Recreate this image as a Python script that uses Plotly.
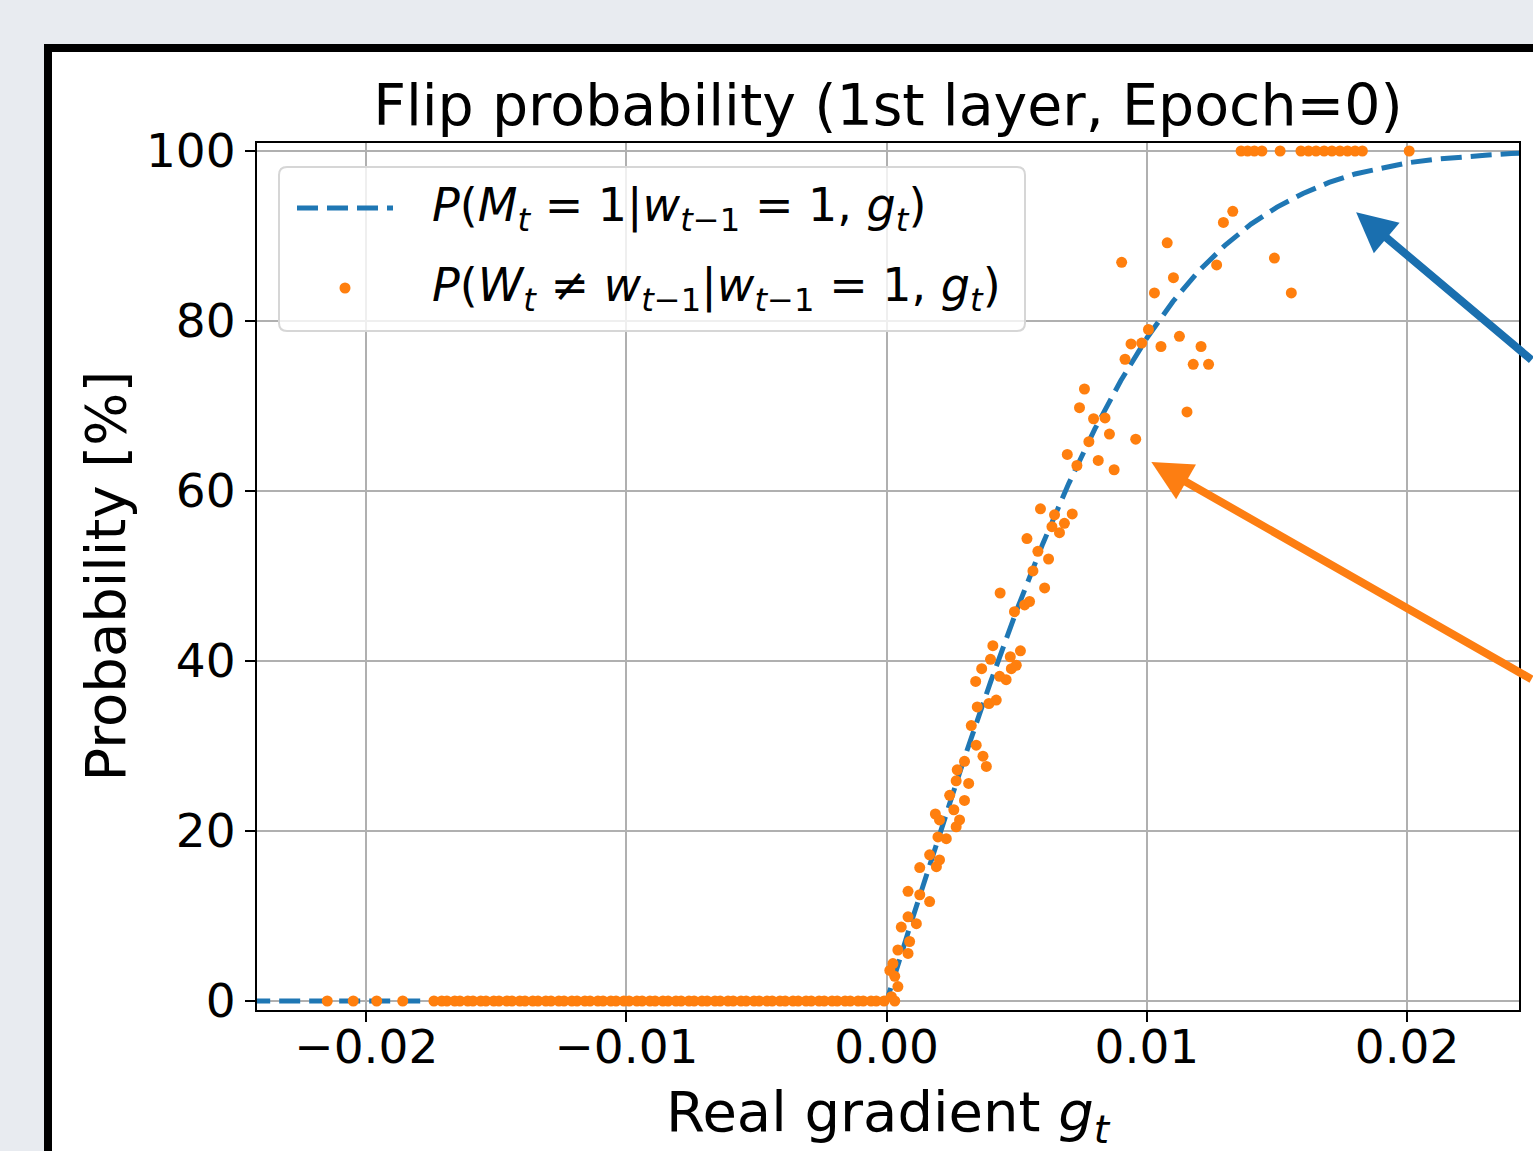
import plotly.graph_objects as go

# ---------------- data ----------------
curve_x = [-0.0245, -0.02, -0.01, 0.0,
           0.001, 0.002, 0.003, 0.004, 0.005, 0.006, 0.007, 0.008, 0.009, 0.010,
           0.011, 0.012, 0.013, 0.014, 0.015, 0.016, 0.017, 0.018, 0.019, 0.020,
           0.021, 0.022, 0.023, 0.024, 0.025]
curve_y = [0.0, 0.0, 0.0, 0.0,
           9.8, 19.4, 28.7, 37.6, 46.0, 53.8, 60.9, 67.3, 73.0, 78.0,
           82.3, 85.9, 88.9, 91.4, 93.4, 95.0, 96.3, 97.3, 98.0, 98.6,
           99.0, 99.3, 99.5, 99.7, 99.8]

flip_x_neg = [-0.0215, -0.0205, -0.0196, -0.0186, -0.0174, -0.0171, -0.0169, -0.0166, -0.0164, -0.0161,
              -0.0159, -0.0156, -0.0154, -0.0151, -0.0149, -0.0146, -0.0144, -0.0141, -0.0139, -0.0136,
              -0.0134, -0.0131, -0.0129, -0.0126, -0.0124, -0.0121, -0.0119, -0.0116, -0.0114, -0.0111,
              -0.0109, -0.0106, -0.0104, -0.0101, -0.0099, -0.0096, -0.0094, -0.0091, -0.0089, -0.0086,
              -0.0084, -0.0081, -0.0079, -0.0076, -0.0074, -0.0071, -0.0069, -0.0066, -0.0064, -0.0061,
              -0.0059, -0.0056, -0.0054, -0.0051, -0.0049, -0.0046, -0.0044, -0.0041, -0.0039, -0.0036,
              -0.0034, -0.0031, -0.0029, -0.0026, -0.0024, -0.0021, -0.0019, -0.0016, -0.0014, -0.0011,
              -0.0009, -0.0006, -0.0004, -0.0001]
flip_y_neg = [0.0, 0.0, 0.0, 0.0, 0.0, 0.0, 0.0, 0.0, 0.0, 0.0,
              0.0, 0.0, 0.0, 0.0, 0.0, 0.0, 0.0, 0.0, 0.0, 0.0,
              0.0, 0.0, 0.0, 0.0, 0.0, 0.0, 0.0, 0.0, 0.0, 0.0,
              0.0, 0.0, 0.0, 0.0, 0.0, 0.0, 0.0, 0.0, 0.0, 0.0,
              0.0, 0.0, 0.0, 0.0, 0.0, 0.0, 0.0, 0.0, 0.0, 0.0,
              0.0, 0.0, 0.0, 0.0, 0.0, 0.0, 0.0, 0.0, 0.0, 0.0,
              0.0, 0.0, 0.0, 0.0, 0.0, 0.0, 0.0, 0.0, 0.0, 0.0,
              0.0, 0.0, 0.0, 0.0]

flip_x_pos = [0.00018, 0.00031, 0.00043, 0.00031, 0.00012, 0.00024, 0.00082, 0.00043,
              0.00088, 0.00056, 0.00114, 0.00082, 0.00165, 0.00127, 0.00082, 0.00127,
              0.00191, 0.00203, 0.00165, 0.00229, 0.00197, 0.00267, 0.00203, 0.00280,
              0.00187, 0.00258, 0.00299, 0.00242, 0.00315, 0.00267, 0.00271, 0.00383,
              0.00299, 0.00370, 0.00344, 0.00325, 0.00348, 0.00393, 0.00421, 0.00342,
              0.00459, 0.00434, 0.00479, 0.00365, 0.00498, 0.00399, 0.00475, 0.00514,
              0.00408, 0.00491, 0.00530, 0.00549, 0.00436, 0.00607, 0.00562, 0.00622,
              0.00581, 0.00539, 0.00664, 0.00635, 0.00683, 0.00713, 0.00645, 0.00591,
              0.00874, 0.00731, 0.00813, 0.00694, 0.00777, 0.00957, 0.00856, 0.00839,
              0.00795, 0.00741, 0.00760, 0.01154, 0.01178, 0.01237, 0.00916, 0.01054,
              0.01208, 0.00939, 0.00980, 0.01125, 0.01006, 0.01029, 0.01555, 0.01102,
              0.01268, 0.00903, 0.01490, 0.01078, 0.01294, 0.01330,
              0.01362, 0.01387, 0.01413, 0.01442, 0.01512, 0.01592, 0.01621, 0.01650,
              0.01681, 0.01711, 0.01742, 0.01771, 0.01800, 0.01828, 0.02008]
flip_y_pos = [0.5, 0.0, 1.7, 2.9, 3.6, 4.4, 5.6, 6.0,
              7.0, 8.7, 9.1, 9.9, 11.7, 12.5, 12.9, 15.7,
              15.8, 16.6, 17.2, 19.1, 19.3, 20.5, 21.3, 21.3,
              22.0, 22.5, 23.6, 24.2, 25.6, 25.9, 27.2, 27.6,
              28.2, 28.8, 30.1, 32.4, 34.6, 35.0, 35.4, 37.6,
              37.8, 38.2, 39.1, 39.1, 39.5, 40.2, 40.5, 41.2,
              41.8, 45.8, 46.6, 47.0, 48.0, 48.6, 50.6, 52.0,
              52.9, 54.4, 55.1, 55.8, 56.2, 57.3, 57.2, 57.9,
              62.5, 63.0, 63.6, 64.3, 65.8, 66.1, 66.7, 68.6,
              68.5, 69.8, 72.0, 69.3, 74.9, 74.9, 75.5, 77.0,
              77.0, 77.3, 77.4, 78.2, 79.0, 83.3, 83.3, 85.1,
              86.6, 86.9, 87.4, 89.2, 91.6, 92.9,
              100.0, 100.0, 100.0, 100.0, 100.0, 100.0, 100.0, 100.0,
              100.0, 100.0, 100.0, 100.0, 100.0, 100.0, 100.0]

flip_x = flip_x_neg + flip_x_pos
flip_y = flip_y_neg + flip_y_pos

x_ticks = [-0.02, -0.01, 0.0, 0.01, 0.02]
x_tick_labels = ["\u22120.02", "\u22120.01", "0.00", "0.01", "0.02"]
y_ticks = [0, 20, 40, 60, 80, 100]
y_tick_labels = ["0", "20", "40", "60", "80", "100"]

title_text = "Flip probability (1st layer, Epoch=0)"
xlabel_text = "Real gradient <i>g</i><sub><i>t</i></sub>"
ylabel_text = "Probability [%]"
legend_curve = ("<i>P</i>(<i>M</i><sub><i>t</i></sub> = 1|<i>w</i><sub><i>t</i>\u22121</sub>"
                " = 1, <i>g</i><sub><i>t</i></sub>)")
legend_dots = ("<i>P</i>(<i>W</i><sub><i>t</i></sub> \u2260 <i>w</i><sub><i>t</i>\u22121</sub>"
               "|<i>w</i><sub><i>t</i>\u22121</sub> = 1, <i>g</i><sub><i>t</i></sub>)")

# ---------------- styling / layout ----------------
W, H = 1533, 1151
L, R, T, B = 257, 1519, 143, 1010          # plot-area pixel box
PW, PH = R - L, B - T
FONT = "DejaVu Sans"
BLUE = "#1f77b4"
ORANGE = "#ff7f0e"


def px(xp):
    return (xp - L) / PW


def py(yp):
    return (B - yp) / PH


fig = go.Figure()
fig.add_trace(go.Scatter(x=curve_x, y=curve_y, mode="lines",
                         line=dict(color=BLUE, width=5, dash="21px,9px"),
                         showlegend=False, hoverinfo="skip"))
fig.add_trace(go.Scatter(x=flip_x, y=flip_y, mode="markers",
                         marker=dict(color=ORANGE, size=11, line=dict(width=0)),
                         showlegend=False, hoverinfo="skip", cliponaxis=False))

shapes = []
# outer white card with black border
shapes.append(dict(type="rect", xref="paper", yref="paper",
                   x0=px(48), x1=px(1650), y0=py(1250), y1=py(48),
                   line=dict(color="black", width=8), fillcolor="white", layer="below"))

# legend box (rounded)
lx0, lx1, ly0, ly1 = px(279), px(1025), py(331), py(167)
rx, ry = 8 / PW, 8 / PH
path = (f"M {lx0+rx},{ly1} L {lx1-rx},{ly1} Q {lx1},{ly1} {lx1},{ly1-ry} "
        f"L {lx1},{ly0+ry} Q {lx1},{ly0} {lx1-rx},{ly0} L {lx0+rx},{ly0} "
        f"Q {lx0},{ly0} {lx0},{ly0+ry} L {lx0},{ly1-ry} Q {lx0},{ly1} {lx0+rx},{ly1} Z")
shapes.append(dict(type="path", xref="paper", yref="paper", path=path,
                   line=dict(color="#d6d6d6", width=2), fillcolor="rgba(255,255,255,0.8)",
                   layer="above"))
shapes.append(dict(type="line", xref="paper", yref="paper",
                   x0=px(297), x1=px(393), y0=py(208), y1=py(208),
                   line=dict(color=BLUE, width=5, dash="21px,9px"), layer="above"))
shapes.append(dict(type="circle", xref="paper", yref="paper",
                   x0=px(339.5), x1=px(350.5), y0=py(293.5), y1=py(282.5),
                   line=dict(width=0), fillcolor=ORANGE, layer="above"))

annotations = [
    dict(text=legend_curve, xref="paper", yref="paper", x=px(430), y=py(208),
         xanchor="left", yanchor="middle", showarrow=False,
         font=dict(family=FONT, size=46, color="black")),
    dict(text=legend_dots, xref="paper", yref="paper", x=px(430), y=py(288),
         xanchor="left", yanchor="middle", showarrow=False,
         font=dict(family=FONT, size=46, color="black")),
    dict(text=xlabel_text, xref="paper", yref="paper", x=0.5, y=py(1115),
         xanchor="center", yanchor="middle", showarrow=False,
         font=dict(family=FONT, size=56, color="black")),
    dict(text=ylabel_text, xref="paper", yref="paper", x=px(105), y=0.5,
         xanchor="center", yanchor="middle", showarrow=False, textangle=-90,
         font=dict(family=FONT, size=56, color="black")),
    # pointer arrows
    dict(text="", xref="x", yref="y", x=0.01804, y=92.8, ax=250, ay=149,
         showarrow=True, arrowhead=2, arrowsize=1.0, arrowwidth=8,
         arrowcolor="#1a6faf", standoff=0),
    dict(text="", xref="x", yref="y", x=0.01017, y=63.4, ax=420, ay=218,
         showarrow=True, arrowhead=2, arrowsize=1.0, arrowwidth=8,
         arrowcolor="#fd7e12", standoff=0),
]

fig.update_layout(
    width=W, height=H, autosize=False,
    margin=dict(l=L, r=W - R, t=T, b=H - B, pad=0),
    paper_bgcolor="#e8ebf0", plot_bgcolor="white",
    font=dict(family=FONT, size=47, color="black"),
    title=dict(text=title_text, x=0.5, xref="paper", xanchor="center",
               y=1 - 105 / H, yref="container", yanchor="middle",
               font=dict(family=FONT, size=57, color="black")),
    shapes=shapes, annotations=annotations, showlegend=False,
)
fig.update_xaxes(range=[-0.0242, 0.0243], tickvals=x_ticks, ticktext=x_tick_labels,
                 showgrid=True, gridcolor="#b0b0b0", gridwidth=2, zeroline=False,
                 showline=True, linecolor="black", linewidth=2, mirror=True,
                 ticks="outside", ticklen=10, tickwidth=2, tickcolor="black",
                 ticklabelstandoff=-15,
                 tickfont=dict(family=FONT, size=47, color="black"))
fig.update_yaxes(range=[-1.06, 100.94], tickvals=y_ticks, ticktext=y_tick_labels,
                 showgrid=True, gridcolor="#b0b0b0", gridwidth=2, zeroline=False,
                 showline=True, linecolor="black", linewidth=2, mirror=True,
                 ticks="outside", ticklen=10, tickwidth=2, tickcolor="black",
                 tickfont=dict(family=FONT, size=47, color="black"))

fig.write_html("out.html", config={"displayModeBar": False},
               post_script="document.body.style.margin='0';"
                           "document.body.style.background='#e8ebf0';")
